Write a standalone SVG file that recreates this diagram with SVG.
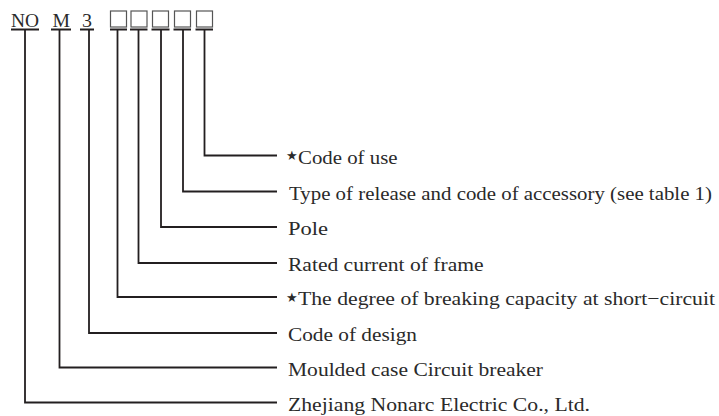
<svg xmlns="http://www.w3.org/2000/svg" width="719" height="416" viewBox="0 0 719 416">
<style>
  .lbl { font-family: "Liberation Serif", "Times New Roman", serif; font-size: 19px; fill: #2a2a2a; }
  .hdr { font-family: "Liberation Serif", "Times New Roman", serif; font-size: 18px; fill: #2a2a2a; }
  .star { font-family: "DejaVu Sans", sans-serif; font-size: 13px; fill: #2a2a2a; }
  .ul { stroke: #231f20; stroke-width: 2; fill: none; }
  .box { stroke: #555; stroke-width: 1.2; fill: #fff; }
  .conn { stroke: #231f20; stroke-width: 1.8; fill: none; stroke-linejoin: miter; }
</style>
<rect width="719" height="416" fill="#fff"/>

<g id="code-header">
  <text class="hdr" x="11" y="27" textLength="28" lengthAdjust="spacingAndGlyphs">NO</text>
  <text class="hdr" x="52.5" y="27" textLength="17.5" lengthAdjust="spacingAndGlyphs">M</text>
  <text class="hdr" x="82" y="27" textLength="10" lengthAdjust="spacingAndGlyphs">3</text>
  <rect class="box" x="110.5" y="11" width="16" height="16"/>
  <rect class="box" x="131" y="11" width="16" height="16"/>
  <rect class="box" x="152.5" y="11" width="16" height="16"/>
  <rect class="box" x="174.5" y="11" width="16" height="16"/>
  <rect class="box" x="196.5" y="11" width="16" height="16"/>
  <line class="ul" x1="11" y1="29.5" x2="39" y2="29.5"/>
  <line class="ul" x1="51" y1="29.5" x2="71" y2="29.5"/>
  <line class="ul" x1="80" y1="29.5" x2="94" y2="29.5"/>
  <line class="ul" x1="110" y1="29.5" x2="127" y2="29.5"/>
  <line class="ul" x1="130" y1="29.5" x2="147.5" y2="29.5"/>
  <line class="ul" x1="151.5" y1="29.5" x2="169.5" y2="29.5"/>
  <line class="ul" x1="173.5" y1="29.5" x2="191" y2="29.5"/>
  <line class="ul" x1="195.5" y1="29.5" x2="213" y2="29.5"/>
</g>

<g id="connectors">
  <polyline class="conn" points="204.5,30 204.5,155.5 277,155.5"/>
  <polyline class="conn" points="183,30 183,191.5 277,191.5"/>
  <polyline class="conn" points="161,30 161,227 277,227"/>
  <polyline class="conn" points="138.5,30 138.5,263 277,263"/>
  <polyline class="conn" points="117.5,30 117.5,297 277,297"/>
  <polyline class="conn" points="89,30 89,333 277,333"/>
  <polyline class="conn" points="59.5,30 59.5,367.5 277,367.5"/>
  <polyline class="conn" points="25,30 25,402.5 277,402.5"/>
</g>

<g id="label-use">
  <text class="star" x="286" y="160">★</text>
  <text class="lbl" x="298" y="163.5" textLength="99.5" lengthAdjust="spacingAndGlyphs">Code of use</text>
</g>
<g id="label-release">
  <text class="lbl" x="289" y="199.5" textLength="423" lengthAdjust="spacingAndGlyphs">Type of release and code of accessory (see table 1)</text>
</g>
<g id="label-pole">
  <text class="lbl" x="288" y="235" textLength="40" lengthAdjust="spacingAndGlyphs">Pole</text>
</g>
<g id="label-rated">
  <text class="lbl" x="288" y="271" textLength="195.5" lengthAdjust="spacingAndGlyphs">Rated current of frame</text>
</g>
<g id="label-degree">
  <text class="star" x="286" y="301.5">★</text>
  <text class="lbl" x="298" y="305" textLength="417" lengthAdjust="spacingAndGlyphs">The degree of breaking capacity at short−circuit</text>
</g>
<g id="label-design">
  <text class="lbl" x="288" y="341" textLength="129" lengthAdjust="spacingAndGlyphs">Code of design</text>
</g>
<g id="label-moulded">
  <text class="lbl" x="288" y="375.5" textLength="255" lengthAdjust="spacingAndGlyphs">Moulded case Circuit breaker</text>
</g>
<g id="label-company">
  <text class="lbl" x="288" y="410.5" textLength="302" lengthAdjust="spacingAndGlyphs">Zhejiang Nonarc Electric Co., Ltd.</text>
</g>
</svg>
